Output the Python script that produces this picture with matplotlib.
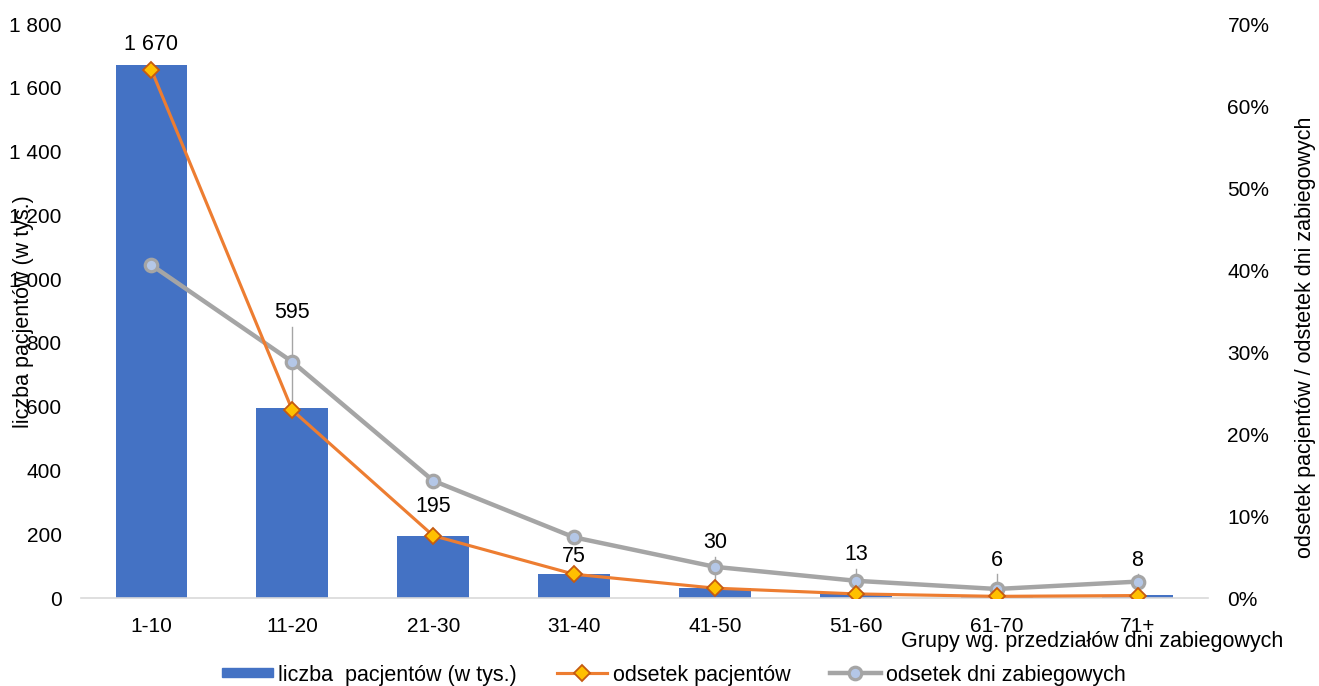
import matplotlib
matplotlib.use("Agg")
import matplotlib.pyplot as plt
import matplotlib.patches as mpatches
from matplotlib.legend_handler import HandlerPatch
from matplotlib.ticker import FuncFormatter
import numpy as np

plt.rcParams['font.family'] = ['Liberation Sans', 'DejaVu Sans']

categories = ["1-10", "11-20", "21-30", "31-40", "41-50", "51-60", "61-70", "71+"]
patients = [1670, 595, 195, 75, 30, 13, 6, 8]
pct_patients = [64.4, 22.9, 7.6, 2.9, 1.2, 0.5, 0.2, 0.3]
pct_days = [40.6, 28.8, 14.3, 7.4, 3.8, 2.1, 1.1, 2.0]
labels = ["1 670", "595", "195", "75", "30", "13", "6", "8"]

W, H = 1319, 686
fig = plt.figure(figsize=(W/100, H/100), dpi=100)
ax = fig.add_axes([81/W, 1-598/H, (1208-81)/W, (598-24)/H])
ax2 = ax.twinx()

x = np.arange(len(categories))
bar_c = "#4472C4"
org = "#ED7D31"
gry = "#A5A5A5"
FS_T = 15
FS = 15.5

ax.bar(x, patients, width=0.51, color=bar_c, zorder=1, label="liczba  pacjentów (w tys.)")
ax.set_ylim(0, 1800)
ax.set_xlim(-0.5, len(categories) - 0.5)
ax.set_yticks(np.arange(0, 1801, 200))
ax.yaxis.set_major_formatter(FuncFormatter(lambda v, p: f"{int(v):,}".replace(",", " ")))
ax.set_xticks(x)
ax.set_xticklabels(categories)

ax2.set_ylim(0, 70)
ax2.set_yticks(np.arange(0, 71, 10))
ax2.yaxis.set_major_formatter(FuncFormatter(lambda v, p: f"{int(v)}%"))

l1, = ax2.plot(x, pct_patients, color=org, lw=2.25, marker="D", ms=8,
               mfc="#FFC000", mec="#C55A11", mew=1.3, zorder=4, label="odsetek pacjentów")
l2, = ax2.plot(x, pct_days, color=gry, lw=3.2, marker="o", ms=9,
               mfc="#B4C7E7", mec=gry, mew=2.3, zorder=3, label="odsetek dni zabiegowych")

for a in (ax, ax2):
    for s in a.spines.values():
        s.set_visible(False)
    a.tick_params(length=0, labelsize=FS_T, colors="#000000")
ax.spines['bottom'].set_visible(True)
ax.spines['bottom'].set_color("#D9D9D9")
ax.spines['bottom'].set_linewidth(1.2)
ax.tick_params(axis='y', pad=14)
ax.tick_params(axis='x', pad=14)
ax2.tick_params(axis='y', pad=14)

# data labels: vertical pixel positions of label centres
label_y_px = [44, 313, 507, 557, 543, 555, 560, 560]
leader = [False, True, False, False, True, True, True, True]
for i, (lab, v) in enumerate(zip(labels, patients)):
    ty = 1800 * (598 - label_y_px[i]) / (598 - 24)
    ax2.text(x[i], ty * 70 / 1800, lab, ha="center", va="center", fontsize=FS, zorder=6)
    if leader[i]:
        ax.plot([x[i], x[i]], [ty - 1800 * 14 / 574, v], color=gry, lw=1, zorder=2)

fig.text(24/W, 1 - 312/H, "liczba pacjentów (w tys.)", rotation=90, ha="center", va="center", fontsize=FS)
fig.text(1306/W, 1 - 337/H, "odsetek pacjentów / odstetek dni zabiegowych", rotation=90,
         ha="center", va="center", fontsize=FS)
fig.text(1283/W, 1 - 642/H, "Grupy wg. przedziałów dni zabiegowych", ha="right", va="center", fontsize=FS)

bar_h = mpatches.Rectangle((0, 0), 1, 1, color=bar_c, label="liczba  pacjentów (w tys.)")

class HB(HandlerPatch):
    def create_artists(self, legend, orig, xd, yd, w, h, fs, trans):
        p = mpatches.Rectangle((xd, yd + h*0.2), w, h*0.6, color=bar_c, transform=trans)
        return [p]

leg = fig.legend([bar_h, l1, l2], [bar_h.get_label(), l1.get_label(), l2.get_label()],
                 loc="center", bbox_to_anchor=(0.511, 1 - 675/H), ncol=3, frameon=False,
                 fontsize=FS, handlelength=2.35, handletextpad=0.25, columnspacing=1.85,
                 handler_map={mpatches.Rectangle: HB()})

fig.savefig("out.png", dpi=100)
